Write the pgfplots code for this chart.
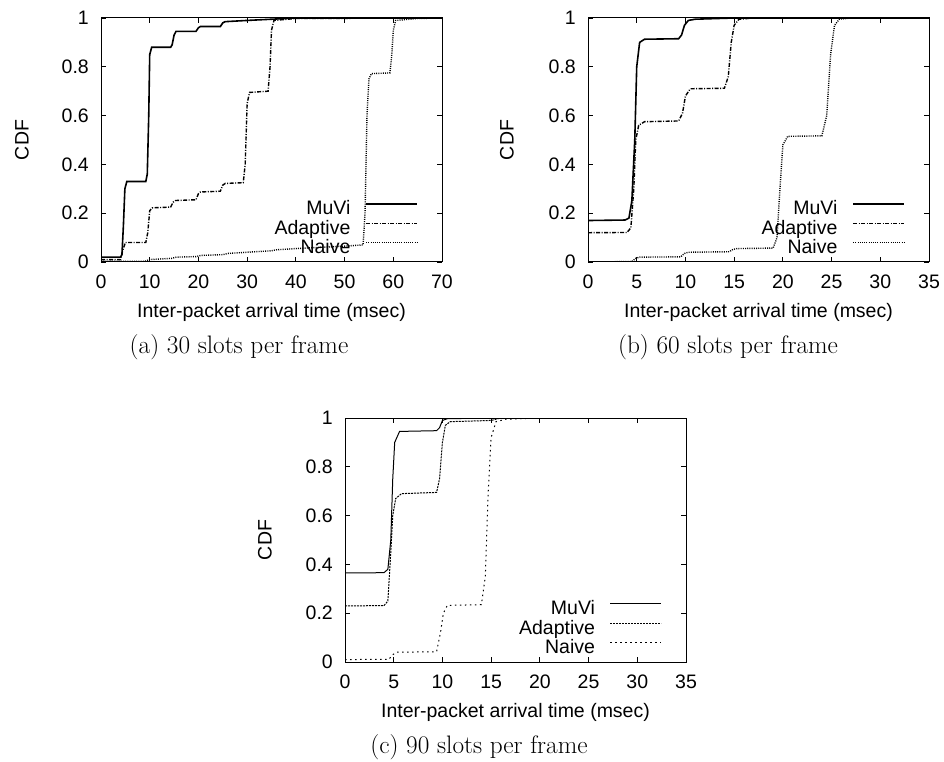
\documentclass[border=0pt]{standalone}
\usepackage{fontspec}
\setsansfont{Liberation Sans}
\usepackage{pgfplots}
\pgfplotsset{compat=1.18}
\newcommand{\axfont}{\sffamily\fontsize{19.5}{21}\selectfont}
\newcommand{\capfont}{\rmfamily\fontsize{25.3}{28}\selectfont}
\pgfplotsset{
  cdfaxis/.style={
    scale only axis, width=341pt, height=244pt,
    ymin=0, ymax=1,
    ytick={0,0.2,0.4,0.6,0.8,1},
    yticklabels={0,0.2,0.4,0.6,0.8,1},
    tick align=inside, major tick length=5pt,
    tick label style={font=\axfont},
    label style={font=\axfont},
    yticklabel style={inner sep=0pt, xshift=-12pt},
    xticklabel style={inner sep=0pt, yshift=-13pt},
    axis line style={line width=1pt},
    every tick/.style={line width=0.8pt, black},
    xlabel={Inter-packet arrival time (msec)},
    ylabel={CDF},
    xlabel style={at={(axis description cs:0.5,-0.205)}, anchor=center, inner sep=0pt},
    legend plot pos=right,
    legend cell align=right,
    legend style={draw=none, fill=none, inner sep=0pt, outer sep=0pt, font=\axfont,
      anchor=north east, row sep=3pt, column sep=15pt,
      at={(axis description cs:0.9296,0.246)},
      nodes={inner sep=0pt, text height=13pt, text depth=3.5pt}},
    legend image code/.code={\draw[##1] (0pt,6.5pt) -- (51pt,6.5pt);},
  },
  muvi/.style={black, line width=1.6pt},
  adap/.style={black, line width=1.4pt, dash pattern=on 4pt off 1.5pt on 1pt off 1.5pt},
  naive/.style={black, line width=1.4pt, dash pattern=on 1pt off 1.2pt},
}
\begin{document}
\begin{tikzpicture}[x=1pt,y=1pt]
\useasboundingbox (0,0) rectangle (944,761);

% (a)
\begin{axis}[cdfaxis, at={(101pt,499pt)}, anchor=south west,
  xmin=0, xmax=70, xtick={0,10,...,70}, xticklabels={0,10,20,30,40,50,60,70},
  ylabel style={at={(axis description cs:-0.232,0.5)}, anchor=center, inner sep=0pt}]
\addplot[muvi] coordinates {(0,0.02) (4,0.02) (4.3,0.03) (4.6,0.15) (4.9,0.30) (5.3,0.33) (9.2,0.33) (9.5,0.36) (9.8,0.6) (10.0,0.85) (10.4,0.88) (14.3,0.88) (14.6,0.89) (15.0,0.93) (15.4,0.945) (19.5,0.945) (20.0,0.96) (20.4,0.965) (24.5,0.965) (25.0,0.98) (25.5,0.985) (30,0.99) (35,0.995) (40,1) (70,1)};
\addlegendentry{MuVi}
\addplot[adap] coordinates {(0,0.01) (4,0.01) (4.5,0.05) (5,0.08) (9.2,0.08) (9.6,0.12) (10.0,0.21) (10.5,0.222) (14.3,0.225) (14.8,0.245) (15.3,0.252) (19.5,0.255) (20.0,0.28) (20.4,0.287) (24.5,0.29) (25.0,0.315) (25.5,0.322) (29.2,0.325) (29.6,0.4) (30.0,0.65) (30.5,0.695) (34.3,0.70) (34.7,0.8) (35.0,0.95) (35.5,0.99) (40,0.998) (70,1)};
\addlegendentry{Adaptive}
\addplot[naive] coordinates {(0,0.003) (9,0.003) (10,0.01) (14.5,0.015) (15.5,0.02) (19.5,0.022) (20.5,0.027) (25,0.03) (26,0.035) (30,0.04) (35,0.046) (36,0.05) (40,0.055) (45,0.06) (50,0.065) (53.8,0.07) (54.2,0.2) (54.6,0.6) (55.0,0.75) (55.5,0.772) (59.3,0.775) (59.7,0.85) (60.0,0.95) (60.5,0.99) (65,0.998) (70,1)};
\addlegendentry{Naive}
\end{axis}

% (b)
\begin{axis}[cdfaxis, at={(588pt,499pt)}, anchor=south west,
  xmin=0, xmax=35, xtick={0,5,...,35}, xticklabels={0,5,10,15,20,25,30,35},
  ylabel style={at={(axis description cs:-0.2375,0.5)}, anchor=center, inner sep=0pt}]
\addplot[muvi] coordinates {(0,0.17) (3.8,0.172) (4.2,0.18) (4.5,0.25) (4.8,0.5) (5.0,0.8) (5.3,0.9) (5.8,0.913) (9.3,0.915) (9.6,0.93) (9.9,0.97) (10.3,0.99) (11,0.995) (15,1) (35,1)};
\addlegendentry{MuVi}
\addplot[adap] coordinates {(0,0.12) (4.0,0.121) (4.4,0.14) (4.7,0.3) (4.9,0.5) (5.2,0.56) (5.8,0.575) (9.3,0.578) (9.7,0.61) (10.0,0.68) (10.5,0.71) (14.0,0.712) (14.4,0.76) (14.7,0.9) (15.0,0.97) (15.5,0.995) (17,1) (35,1)};
\addlegendentry{Adaptive}
\addplot[naive] coordinates {(0,0.0) (4.5,0.002) (4.9,0.015) (5.3,0.02) (9.5,0.021) (9.9,0.035) (10.3,0.04) (14.5,0.042) (14.9,0.052) (15.3,0.055) (19.0,0.057) (19.4,0.1) (19.7,0.3) (20.0,0.48) (20.5,0.515) (24.0,0.517) (24.5,0.6) (24.9,0.85) (25.3,0.97) (25.8,0.995) (27,1) (35,1)};
\addlegendentry{Naive}
\end{axis}

% (c)
\begin{axis}[cdfaxis, at={(345pt,99pt)}, anchor=south west,
  xmin=0, xmax=35, xtick={0,5,...,35}, xticklabels={0,5,10,15,20,25,30,35},
  ylabel style={at={(axis description cs:-0.2346,0.5)}, anchor=center, inner sep=0pt},
  muvi/.style={black, line width=1pt},
  adap/.style={black, line width=1pt, dash pattern=on 2pt off 1pt},
  naive/.style={black, line width=1pt, dash pattern=on 1.5pt off 3.5pt}]
\addplot[muvi] coordinates {(0,0.365) (4.0,0.366) (4.4,0.38) (4.7,0.5) (4.9,0.75) (5.1,0.9) (5.6,0.945) (9.4,0.948) (9.7,0.96) (10.0,0.99) (10.5,0.997) (15,1) (35,1)};
\addlegendentry{MuVi}
\addplot[adap] coordinates {(0,0.23) (4.0,0.231) (4.4,0.25) (4.7,0.45) (4.9,0.6) (5.2,0.67) (5.8,0.69) (9.4,0.695) (9.7,0.75) (10.0,0.9) (10.3,0.97) (10.8,0.985) (15,0.99) (16,1) (35,1)};
\addlegendentry{Adaptive}
\addplot[naive] coordinates {(0,0.01) (4.5,0.011) (4.9,0.03) (5.3,0.04) (9.4,0.042) (9.8,0.12) (10.1,0.2) (10.5,0.232) (14.0,0.235) (14.4,0.35) (14.7,0.7) (15.0,0.92) (15.5,0.985) (16.5,0.995) (20,1) (35,1)};
\addlegendentry{Naive}
\end{axis}

\node[font=\capfont] at (239,414) {(a) 30 slots per frame};
\node[font=\capfont] at (728,414) {(b) 60 slots per frame};
\node[font=\capfont] at (479,14) {(c) 90 slots per frame};
\end{tikzpicture}
\end{document}
